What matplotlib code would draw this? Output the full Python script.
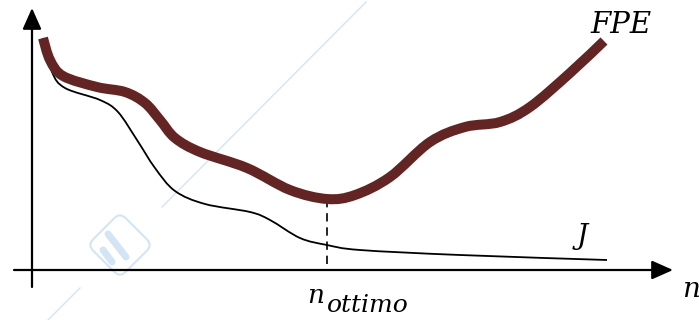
import matplotlib
matplotlib.use('Agg')
import matplotlib.pyplot as plt
from matplotlib.patches import FancyBboxPatch, PathPatch
from matplotlib.path import Path
from matplotlib.transforms import Affine2D

# curve points (pixel units, y grows downward)
fpe_x = [43, 50, 63, 97, 125, 145, 160, 175, 200, 247, 290, 327, 355, 390, 430, 465,
         500, 530, 570, 604]
fpe_y = [38, 60, 76, 87, 92, 103, 120, 138, 152, 168, 190, 199, 195, 177, 142, 127,
         122, 107, 73, 41]

j_x = [43, 52, 65, 100, 118, 137, 155, 175, 205, 250, 270, 300, 327, 360, 460, 607]
j_y = [38, 72, 88, 100, 112, 140, 168, 191, 204, 212, 220, 238, 245, 250, 255, 260]

n_ott = 327          # posizione di n_ottimo
fpe_min = 199

fpe_col = '#632523'
wm_col = '#d3e5f4'   # watermark azzurro


# percorso liscio (bezier) che passa per i punti letti
def curva_liscia(xs, ys):
    pts = list(zip(xs, ys))
    verts = [pts[0]]
    codes = [Path.MOVETO]
    n = len(pts)
    for i in range(n - 1):
        p0 = pts[max(i - 1, 0)]
        p1 = pts[i]
        p2 = pts[i + 1]
        p3 = pts[min(i + 2, n - 1)]
        c1 = (p1[0] + (p2[0] - p0[0]) / 6, p1[1] + (p2[1] - p0[1]) / 6)
        c2 = (p2[0] - (p3[0] - p1[0]) / 6, p2[1] - (p3[1] - p1[1]) / 6)
        verts += [c1, c2, p2]
        codes += [Path.CURVE4] * 3
    return Path(verts, codes)


fig = plt.figure(figsize=(6.99, 3.2), dpi=100)
ax = fig.add_axes([0, 0, 1, 1])
ax.set_xlim(0, 699)
ax.set_ylim(320, 0)
ax.axis('off')

# watermark (linea diagonale + logo)
ax.plot([47, 80], [321, 288], color=wm_col, lw=1, zorder=0)
ax.plot([162, 366], [207, 2], color=wm_col, lw=1, zorder=0)
logo = FancyBboxPatch((97, 222), 46, 46, boxstyle='round,pad=0,rounding_size=8',
                      fc='white', ec=wm_col, lw=1.5, zorder=0.5,
                      transform=Affine2D().rotate_deg_around(120, 245, 45) + ax.transData)
ax.add_patch(logo)
ax.plot([108, 126], [234, 257], color=wm_col, lw=5, solid_capstyle='round', zorder=0.6)
ax.plot([103, 112], [250, 262], color=wm_col, lw=5, solid_capstyle='round', zorder=0.6)

# assi con frecce
arrow = dict(arrowstyle='-|>,head_length=0.9,head_width=0.4', mutation_scale=14.4,
             lw=1.6, color='black', shrinkA=0, shrinkB=0)
ax.annotate('', xy=(673, 270), xytext=(14, 270), arrowprops=arrow, zorder=2)
ax.annotate('', xy=(32, 8), xytext=(32, 287), arrowprops=arrow, zorder=2)

# curve
ax.add_patch(PathPatch(curva_liscia(j_x, j_y), fill=False, ec='black', lw=1.3,
                       joinstyle='round', zorder=3))
ax.add_patch(PathPatch(curva_liscia(fpe_x, fpe_y), fill=False, ec=fpe_col, lw=7.2,
                       joinstyle='round', capstyle='butt', zorder=4))
ax.plot([n_ott, n_ott], [fpe_min, 270], color='black', lw=1.2, ls=(0, (5, 3.5)), zorder=2)

# etichette
tkw = dict(family='DejaVu Serif', style='italic', color='black', va='baseline')
ax.text(590, 33, 'FPE', fontsize=21, **tkw)
ax.text(577, 244, 'J', fontsize=20, **tkw)
ax.text(307, 303, 'n', fontsize=19, **tkw)
ax.text(327, 312, 'ottimo', fontsize=18, **tkw)
ax.text(682, 297, 'n', fontsize=20, **tkw)

fig.savefig('out.png', dpi=100)
